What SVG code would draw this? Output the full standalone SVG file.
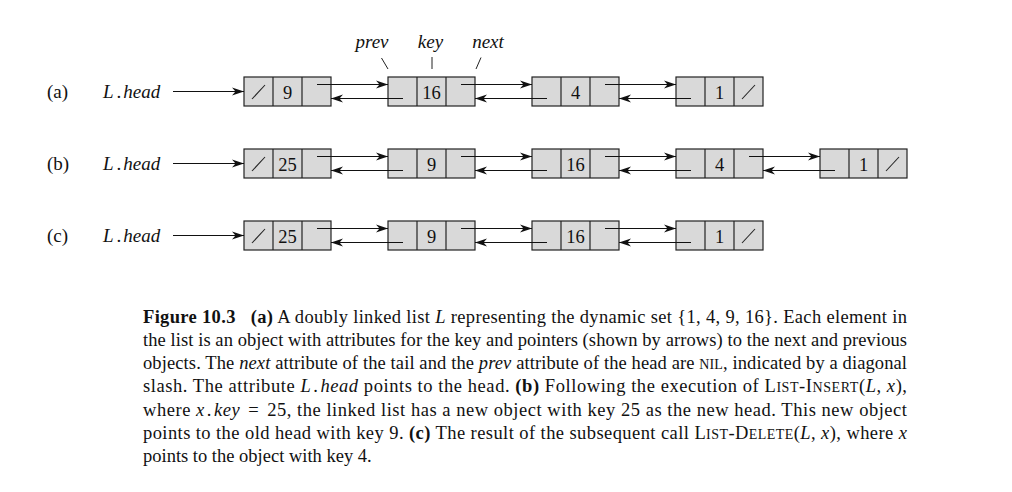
<svg xmlns="http://www.w3.org/2000/svg" width="1012" height="492" viewBox="0 0 1012 492">
<style>
text{font-family:"Liberation Serif","Times New Roman",serif;fill:#111}
.box{fill:#d9d9d9;stroke:#222;stroke-width:1.2}
.div{stroke:#222;stroke-width:1.2}
.slash{stroke:#222;stroke-width:1.1}
.arr{stroke:#111;stroke-width:1.1;fill:none;marker-end:url(#ah)}
.tick{stroke:#222;stroke-width:1}
.num{font-size:18.5px;text-anchor:middle}
.lbl{font-size:19px}
.i{font-style:italic}
.b{font-weight:bold}
.sc{font-size:14px}
.cap{font-size:18.5px}
</style>
<defs>
<marker id="ah" markerUnits="userSpaceOnUse" markerWidth="13" markerHeight="9" viewBox="0 -4.5 13 9" refX="12" refY="0" orient="auto">
<path d="M0,-4 L12,0 L0,4 L3.5,0 z" fill="#111"/>
</marker>
</defs>

<g id="labels">
<text class="lbl" x="47" y="98">(a)</text>
<text class="lbl" x="103" y="98"><tspan class="i">L</tspan><tspan dx="3">.</tspan><tspan class="i" dx="2">head</tspan></text>
<text class="lbl" x="47" y="170">(b)</text>
<text class="lbl" x="103" y="170"><tspan class="i">L</tspan><tspan dx="3">.</tspan><tspan class="i" dx="2">head</tspan></text>
<text class="lbl" x="47" y="242">(c)</text>
<text class="lbl" x="103" y="242"><tspan class="i">L</tspan><tspan dx="3">.</tspan><tspan class="i" dx="2">head</tspan></text>
<text class="lbl i" x="372" y="48" text-anchor="middle">prev</text>
<text class="lbl i" x="430.5" y="48" text-anchor="middle">key</text>
<text class="lbl i" x="488" y="48" text-anchor="middle">next</text>
<line class="tick" x1="381.5" y1="58" x2="388" y2="69"/>
<line class="tick" x1="432" y1="57" x2="432" y2="69"/>
<line class="tick" x1="481" y1="57.5" x2="476" y2="69"/>
</g>

<!-- Row a -->
<g id="a1"><rect class="box" x="244" y="77" width="87" height="29"/><line class="div" x1="273" y1="77" x2="273" y2="106"/><line class="div" x1="302" y1="77" x2="302" y2="106"/><line class="slash" x1="252" y1="99" x2="265" y2="85"/><text class="num" x="287.5" y="99">9</text></g>
<g id="a2"><rect class="box" x="388" y="77" width="87" height="29"/><line class="div" x1="417" y1="77" x2="417" y2="106"/><line class="div" x1="446" y1="77" x2="446" y2="106"/><text class="num" x="431.5" y="99">16</text></g>
<g id="a3"><rect class="box" x="532" y="77" width="87" height="29"/><line class="div" x1="561" y1="77" x2="561" y2="106"/><line class="div" x1="590" y1="77" x2="590" y2="106"/><text class="num" x="575.5" y="99">4</text></g>
<g id="a4"><rect class="box" x="676" y="77" width="87" height="29"/><line class="div" x1="705" y1="77" x2="705" y2="106"/><line class="div" x1="734" y1="77" x2="734" y2="106"/><line class="slash" x1="742" y1="99" x2="755" y2="85"/><text class="num" x="719.5" y="99">1</text></g>

<!-- Row b -->
<g id="b1"><rect class="box" x="244" y="149" width="87" height="29"/><line class="div" x1="273" y1="149" x2="273" y2="178"/><line class="div" x1="302" y1="149" x2="302" y2="178"/><line class="slash" x1="252" y1="171" x2="265" y2="157"/><text class="num" x="287.5" y="171">25</text></g>
<g id="b2"><rect class="box" x="388" y="149" width="87" height="29"/><line class="div" x1="417" y1="149" x2="417" y2="178"/><line class="div" x1="446" y1="149" x2="446" y2="178"/><text class="num" x="431.5" y="171">9</text></g>
<g id="b3"><rect class="box" x="532" y="149" width="87" height="29"/><line class="div" x1="561" y1="149" x2="561" y2="178"/><line class="div" x1="590" y1="149" x2="590" y2="178"/><text class="num" x="575.5" y="171">16</text></g>
<g id="b4"><rect class="box" x="676" y="149" width="87" height="29"/><line class="div" x1="705" y1="149" x2="705" y2="178"/><line class="div" x1="734" y1="149" x2="734" y2="178"/><text class="num" x="719.5" y="171">4</text></g>
<g id="b5"><rect class="box" x="820" y="149" width="87" height="29"/><line class="div" x1="849" y1="149" x2="849" y2="178"/><line class="div" x1="878" y1="149" x2="878" y2="178"/><line class="slash" x1="886" y1="171" x2="899" y2="157"/><text class="num" x="863.5" y="171">1</text></g>

<!-- Row c -->
<g id="c1"><rect class="box" x="244" y="221" width="87" height="29"/><line class="div" x1="273" y1="221" x2="273" y2="250"/><line class="div" x1="302" y1="221" x2="302" y2="250"/><line class="slash" x1="252" y1="243" x2="265" y2="229"/><text class="num" x="287.5" y="243">25</text></g>
<g id="c2"><rect class="box" x="388" y="221" width="87" height="29"/><line class="div" x1="417" y1="221" x2="417" y2="250"/><line class="div" x1="446" y1="221" x2="446" y2="250"/><text class="num" x="431.5" y="243">9</text></g>
<g id="c3"><rect class="box" x="532" y="221" width="87" height="29"/><line class="div" x1="561" y1="221" x2="561" y2="250"/><line class="div" x1="590" y1="221" x2="590" y2="250"/><text class="num" x="575.5" y="243">16</text></g>
<g id="c4"><rect class="box" x="676" y="221" width="87" height="29"/><line class="div" x1="705" y1="221" x2="705" y2="250"/><line class="div" x1="734" y1="221" x2="734" y2="250"/><line class="slash" x1="742" y1="243" x2="755" y2="229"/><text class="num" x="719.5" y="243">1</text></g>

<g id="connectors">
<line class="arr" x1="173" y1="91.5" x2="244" y2="91.5"/>
<line class="arr" x1="173" y1="163.5" x2="244" y2="163.5"/>
<line class="arr" x1="173" y1="235.5" x2="244" y2="235.5"/>
<line class="arr" x1="317" y1="84.5" x2="388" y2="84.5"/>
<line class="arr" x1="403" y1="98.5" x2="331" y2="98.5"/>
<line class="arr" x1="461" y1="84.5" x2="532" y2="84.5"/>
<line class="arr" x1="547" y1="98.5" x2="475" y2="98.5"/>
<line class="arr" x1="605" y1="84.5" x2="676" y2="84.5"/>
<line class="arr" x1="691" y1="98.5" x2="619" y2="98.5"/>
<line class="arr" x1="317" y1="156.5" x2="388" y2="156.5"/>
<line class="arr" x1="403" y1="170.5" x2="331" y2="170.5"/>
<line class="arr" x1="461" y1="156.5" x2="532" y2="156.5"/>
<line class="arr" x1="547" y1="170.5" x2="475" y2="170.5"/>
<line class="arr" x1="605" y1="156.5" x2="676" y2="156.5"/>
<line class="arr" x1="691" y1="170.5" x2="619" y2="170.5"/>
<line class="arr" x1="749" y1="156.5" x2="820" y2="156.5"/>
<line class="arr" x1="835" y1="170.5" x2="763" y2="170.5"/>
<line class="arr" x1="317" y1="228.5" x2="388" y2="228.5"/>
<line class="arr" x1="403" y1="242.5" x2="331" y2="242.5"/>
<line class="arr" x1="461" y1="228.5" x2="532" y2="228.5"/>
<line class="arr" x1="547" y1="242.5" x2="475" y2="242.5"/>
<line class="arr" x1="605" y1="228.5" x2="676" y2="228.5"/>
<line class="arr" x1="691" y1="242.5" x2="619" y2="242.5"/>
</g>

<g id="caption">
<text class="cap" x="143" y="323" textLength="764" lengthAdjust="spacing"><tspan class="b">Figure 10.3</tspan><tspan class="b" dx="15">(a)</tspan> A doubly linked list <tspan class="i">L</tspan> representing the dynamic set {1, 4, 9, 16}. Each element in</text>
<text class="cap" x="143" y="346" textLength="764" lengthAdjust="spacing">the list is an object with attributes for the key and pointers (shown by arrows) to the next and previous</text>
<text class="cap" x="143" y="369" textLength="764" lengthAdjust="spacing">objects. The <tspan class="i">next</tspan> attribute of the tail and the <tspan class="i">prev</tspan> attribute of the head are <tspan class="sc">NIL</tspan>, indicated by a diagonal</text>
<text class="cap" x="143" y="392" textLength="764" lengthAdjust="spacing">slash. The attribute <tspan class="i">L</tspan><tspan dx="2">.</tspan><tspan class="i" dx="2">head</tspan> points to the head. <tspan class="b">(b)</tspan> Following the execution of L<tspan class="sc">IST</tspan>-I<tspan class="sc">NSERT</tspan>(<tspan class="i">L</tspan>, <tspan class="i">x</tspan>),</text>
<text class="cap" x="143" y="415.5" textLength="764" lengthAdjust="spacing">where <tspan class="i">x</tspan><tspan dx="2">.</tspan><tspan class="i" dx="2">key</tspan><tspan dx="8">=</tspan><tspan dx="8">25</tspan>, the linked list has a new object with key 25 as the new head. This new object</text>
<text class="cap" x="143" y="438.5" textLength="764" lengthAdjust="spacing">points to the old head with key 9. <tspan class="b">(c)</tspan> The result of the subsequent call L<tspan class="sc">IST</tspan>-D<tspan class="sc">ELETE</tspan>(<tspan class="i">L</tspan>, <tspan class="i">x</tspan>), where <tspan class="i">x</tspan></text>
<text class="cap" x="143" y="461.5">points to the object with key 4.</text>
</g>
</svg>
